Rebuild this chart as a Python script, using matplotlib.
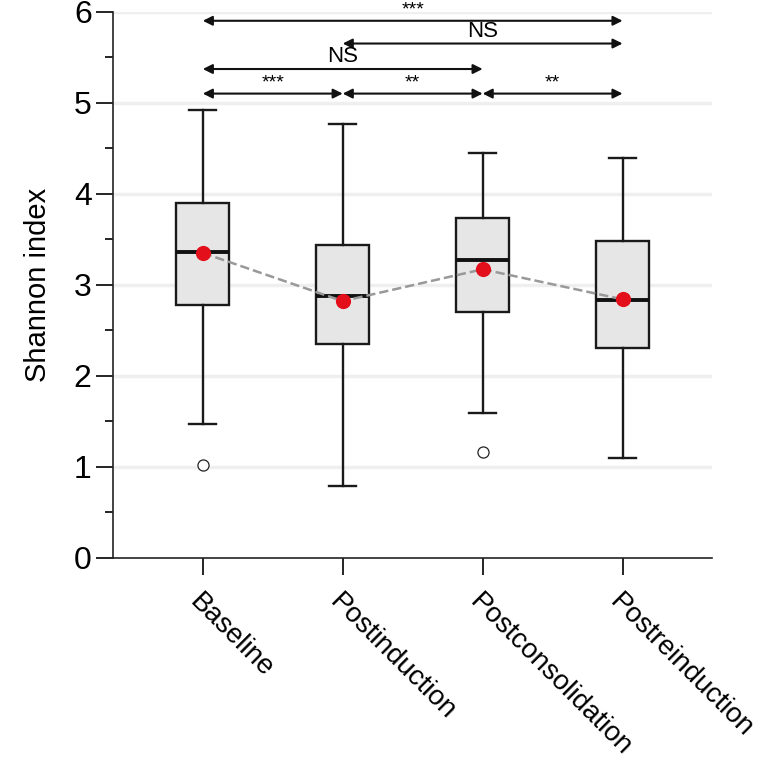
import numpy as np
import matplotlib.pyplot as plt

plt.rcParams['font.family'] = ['Liberation Sans', 'DejaVu Sans']

# Box summary values
groups = ["Baseline", "Postinduction", "Postconsolidation", "Postreinduction"]
whisker_low = [1.47, 0.79, 1.59, 1.10]
q1 = [2.78, 2.35, 2.70, 2.31]
medians = [3.36, 2.88, 3.27, 2.83]
q3 = [3.90, 3.44, 3.73, 3.48]
whisker_high = [4.92, 4.77, 4.45, 4.39]
outliers = [[1.02], [], [1.16], []]
means = [3.35, 2.82, 3.17, 2.84]

# Pairwise comparisons: (from group, to group, y level, label)
comp_from = [1, 2, 1, 1, 2, 3]
comp_to = [4, 4, 3, 2, 3, 4]
comp_y = [5.90, 5.65, 5.37, 5.10, 5.10, 5.10]
comp_label = ["***", "NS", "NS", "***", "**", "**"]

fig = plt.figure(figsize=(7.6, 7.78), dpi=100)
ax = fig.add_axes([0.149, 0.283, 0.788, 0.702])

pos = np.arange(1, len(groups) + 1)
stats = []
for i in range(len(groups)):
    stats.append(dict(whislo=whisker_low[i], q1=q1[i], med=medians[i], q3=q3[i],
                      whishi=whisker_high[i], fliers=outliers[i]))

ax.bxp(stats, positions=pos, widths=0.38, capwidths=0.19, patch_artist=True,
       showfliers=True,
       boxprops=dict(facecolor='#e6e6e6', edgecolor='#1a1a1a', linewidth=1.7),
       medianprops=dict(color='#111111', linewidth=2.8),
       whiskerprops=dict(color='#1a1a1a', linewidth=1.7),
       capprops=dict(color='#1a1a1a', linewidth=1.7),
       flierprops=dict(marker='o', markerfacecolor='white', markeredgecolor='#222222',
                       markersize=8, markeredgewidth=0.9),
       zorder=3)

for yv in range(1, 7):
    ax.axhline(yv, color='#efefef', linewidth=2.5, zorder=0)

ax.plot(pos, means, linestyle='--', color='#999999', linewidth=1.8, zorder=4)
ax.scatter(pos, means, s=120, color='#e3101c', zorder=5, linewidths=0)

for a, b, yv, lab in zip(comp_from, comp_to, comp_y, comp_label):
    ax.annotate('', xy=(b, yv), xytext=(a, yv),
                arrowprops=dict(arrowstyle='<|-|>', color='#111111', lw=1.5,
                                mutation_scale=14, shrinkA=0, shrinkB=0),
                annotation_clip=False)
    if lab == "NS":
        ax.text((a + b) / 2, yv + 0.02, lab, ha='center', va='bottom', fontsize=16)
    else:
        ax.text((a + b) / 2, yv + 0.02, lab, ha='center', va='bottom', fontsize=14)

ax.set_xlim(0.36, 4.64)
ax.set_ylim(0, 6)
ax.set_yticks(range(0, 7))
ax.set_yticks(np.arange(0.5, 6, 1.0), minor=True)
ax.tick_params(axis='y', which='major', labelsize=23, length=12, width=1.2, direction='out')
ax.tick_params(axis='y', which='minor', length=6, width=1.2, direction='out')
ax.set_xticks(pos)
ax.set_xticklabels(groups, rotation=-45, ha='left', va='top', rotation_mode='anchor',
                   fontsize=20)
ax.tick_params(axis='x', length=12, width=1.2, direction='out', pad=10)
for lab in ax.get_xticklabels():
    lab.set_x(lab.get_position()[0])
ax.set_ylabel("Shannon index", fontsize=21, labelpad=16)

for s in ['top', 'right']:
    ax.spines[s].set_visible(False)
for s in ['left', 'bottom']:
    ax.spines[s].set_linewidth(1.2)
    ax.spines[s].set_color('#222222')

fig.savefig('out.png', dpi=100)
